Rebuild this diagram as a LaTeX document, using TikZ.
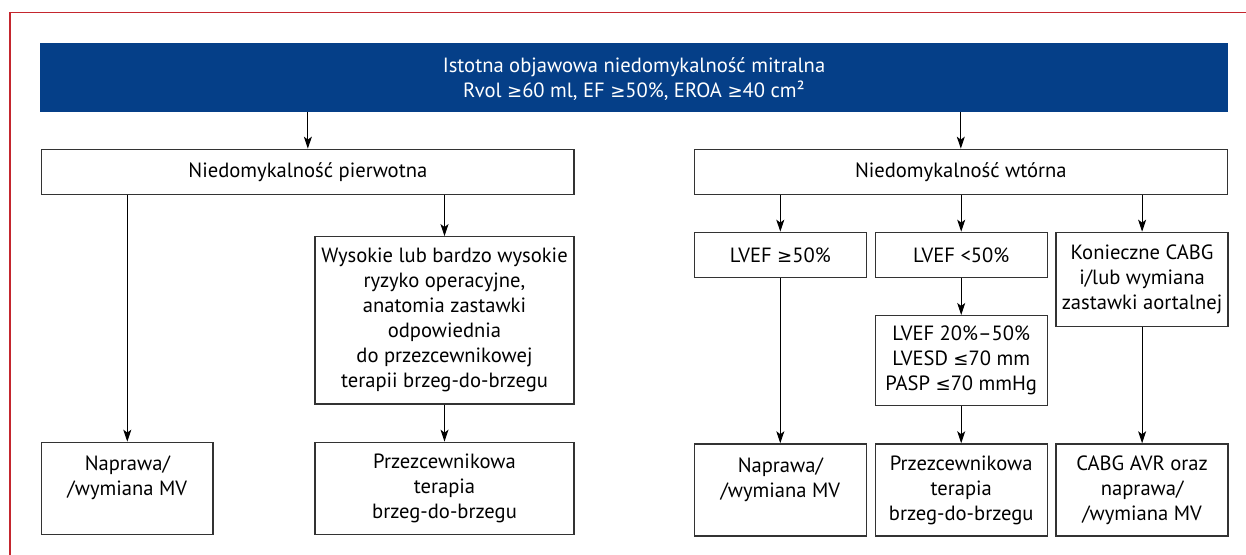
\documentclass[tikz,border=0pt]{standalone}
\usepackage{fontspec}
\setmainfont{PT Sans}
\newfontfamily\relfont{DejaVu Sans}[Scale=0.88]
\usepackage{xcolor}
\usepackage{tikz}
\usetikzlibrary{arrows.meta,positioning}
\definecolor{mrNavy}{HTML}{053F88}
\definecolor{mrRed}{HTML}{C4262E}
\definecolor{mrInk}{HTML}{333333}
\newcommand{\mrge}{{\relfont ≥}}
\newcommand{\mrle}{{\relfont ≤}}

\begin{document}
\begin{tikzpicture}[x=0.5pt,y=-0.5pt,
 head/.style={rectangle,fill=mrNavy,text=white,minimum width=594pt,
   minimum height=34.5pt,inner sep=0pt,align=center,text depth=0pt},
 box/.style={rectangle,draw=mrInk,line width=0.65pt,fill=white,inner sep=0pt,
   align=center,minimum height=22.5pt},
 cell/.style={box,minimum width=86pt},
 tall/.style={box,minimum width=86pt,minimum height=46pt},
 arr/.style={-{Stealth[length=6pt,width=4pt,inset=1.5pt]},line width=0.5pt,draw=black},
 node distance=18.5pt and 3.8pt,
 every node/.append style={font=\fontsize{10.3}{12.5}\selectfont}]
\useasboundingbox (0,0) rectangle (1246,555);
\draw[mrRed,line width=0.6pt] (10,560) -- (10,12.7) -- (1250,12.7);
\node[head] (top) at (634,77.5) {Istotna objawowa niedomykalność mitralna\\Rvol \mrge60 ml, EF \mrge50\%, EROA \mrge40 cm²};
% primary branch
\node[box,minimum width=266.2pt] (prim) at (307.85,171.8) {Niedomykalność pierwotna};
\node[box,minimum width=129.5pt,minimum height=83.65pt] (risk) at (444.5,320.35)
  {Wysokie lub bardzo wysokie\\ryzyko operacyjne,\\anatomia zastawki\\odpowiednia\\do przezcewnikowej\\terapii brzeg-do-brzegu};
\node[box,minimum width=129.5pt,minimum height=46pt,below=of risk] (tav1) {Przezcewnikowa\\terapia\\brzeg-do-brzegu};
\node[box,minimum width=85.65pt,minimum height=46pt,anchor=west] (fix1) at (prim.west |- tav1) {Naprawa/\\/wymiana MV\\\mbox{}};
% secondary branch
\node[box,minimum width=266.5pt] (sec) at (960.8,171.8) {Niedomykalność wtórna};
\node[cell] (lvhi) at (780.3,254.8) {LVEF \mrge50\%};
\node[cell,right=of lvhi] (lvlo) {LVEF <50\%};
\node[cell,minimum height=47.2pt,right=of lvlo.north east,anchor=north west] (need) {Konieczne CABG\\i/lub wymiana\\zastawki aortalnej};
\node[cell,minimum height=45pt,below=of lvlo] (lvmid) {LVEF 20\%–50\%\\LVESD \mrle70 mm\\PASP \mrle70 mmHg};
\node[tall,below=of lvmid] (tav2) {Przezcewnikowa\\terapia\\brzeg-do-brzegu};
\node[tall] (fix2) at (lvhi |- tav2) {Naprawa/\\/wymiana MV\\\mbox{}};
\node[tall] (cabg) at (need |- tav2) {CABG AVR oraz\\naprawa/\\/wymiana MV};
% connectors
\draw[arr] (top.south -| prim.north) -- (prim.north);
\draw[arr] (top.south -| sec.north) -- (sec.north);
\draw[arr] (prim.south -| fix1.north) -- (fix1.north);
\draw[arr] (prim.south -| risk.north) -- (risk.north);
\draw[arr] (risk) -- (tav1);
\draw[arr] (sec.south -| lvhi.north) -- (lvhi.north);
\draw[arr] (sec.south -| lvlo.north) -- (lvlo.north);
\draw[arr] (sec.south -| need.north) -- (need.north);
\draw[arr] (lvhi) -- (fix2);
\draw[arr] (lvlo) -- (lvmid);
\draw[arr] (lvmid) -- (tav2);
\draw[arr] (need) -- (cabg);
\end{tikzpicture}
\end{document}
